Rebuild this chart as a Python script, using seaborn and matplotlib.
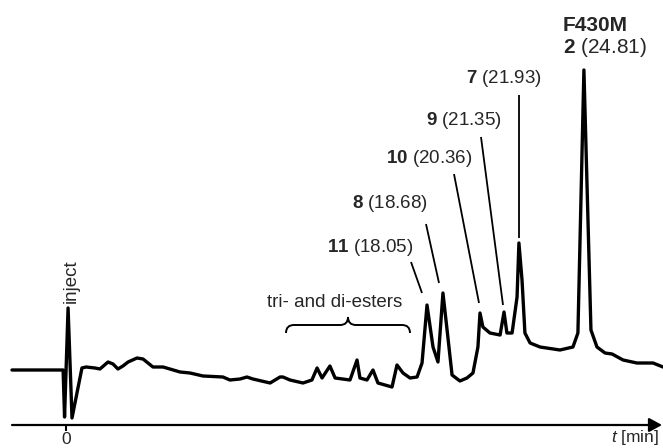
import matplotlib
matplotlib.use("Agg")
import matplotlib.pyplot as plt
from matplotlib.path import Path
from matplotlib.patches import PathPatch
import seaborn as sns
import pandas as pd

# ---- data (time in min, detector signal in a.u.) ----
time_min = [-2.61, -0.14, -0.07, 0.10, 0.29, 0.77, 0.97, 1.40, 1.64, 2.03, 2.27,
            2.51, 2.75, 3.00, 3.43, 3.72, 4.20, 4.69, 5.51, 5.99, 6.62, 7.58,
            7.92, 8.41, 8.74, 9.03, 9.86, 10.34, 10.48, 10.82, 11.45, 11.88,
            12.13, 12.37, 12.75, 13.00, 13.72, 14.06, 14.20, 14.54, 14.83,
            15.07, 15.75, 15.99, 16.28, 16.62, 16.96, 17.20, 17.44, 17.73,
            17.97, 18.21, 18.41, 18.65, 19.03, 19.37, 19.66, 19.90, 20.00,
            20.14, 20.48, 20.97, 21.16, 21.30, 21.55, 21.79, 21.88, 22.03,
            22.17, 22.42, 22.90, 23.86, 24.49, 24.73, 25.02, 25.36, 25.65,
            26.04, 26.38, 26.91, 27.58, 28.36, 28.84]
signal = [55, 55, 8, 117, 7, 57, 58, 57, 56, 63, 61,
          56, 59, 63, 67, 66, 58, 58, 53, 52, 49, 48,
          45, 46, 48, 46, 42, 48, 48, 45, 42, 45,
          57, 47, 59, 47, 45, 65, 47, 45, 55,
          42, 38, 60, 52, 47, 48, 62, 120, 78,
          63, 132, 95, 50, 44, 47, 52, 78, 112,
          98, 92, 90, 113, 92, 92, 128, 182, 145,
          92, 82, 78, 75, 78, 92, 355, 95, 78,
          72, 71, 65, 62, 62, 58]

peak_ids = ["11", "8", "10", "9", "7"]
peak_rt = ["18.05", "18.68", "20.36", "21.35", "21.93"]
main_id = "2"
main_rt = "24.81"
main_name = "F430M"
group_label = "tri- and di-esters"
inject_label = "inject"
x_ticks = [0]
x_tick_labels = ["0"]
x_label_unit = "[min]"

df = pd.DataFrame({"t": time_min, "s": signal})

# ---- style ----
sns.set_style("white")
plt.rcParams["font.family"] = ["Liberation Sans", "DejaVu Sans"]
plt.rcParams["mathtext.fontset"] = "custom"
plt.rcParams["mathtext.rm"] = "Liberation Sans"
plt.rcParams["mathtext.it"] = "Liberation Sans:italic"
plt.rcParams["mathtext.bf"] = "Liberation Sans:bold"

W, H = 663, 448
fig = plt.figure(figsize=(W / 100, H / 100), dpi=100)
ax = fig.add_axes([0, 23 / H, 1, 425 / H])

SCALE = 20.7  # px per minute
X0 = 66       # px of t = 0
Y0 = 425      # px of axis line


def P(x, y):
    """pixel position -> data coordinates (for annotations only)"""
    return ((x - X0) / SCALE, Y0 - y)


sns.lineplot(data=df, x="t", y="s", sort=False, color="black", lw=2.4,
             ax=ax, estimator=None, solid_joinstyle="round",
             solid_capstyle="round")

ax.set_xlim(P(0, 0)[0], P(W, 0)[0])
ax.set_ylim(0, Y0)
for sp in ax.spines.values():
    sp.set_visible(False)
ax.set_yticks([])
ax.set_xticks(x_ticks)
ax.set_xticklabels(x_tick_labels)
ax.tick_params(axis="x", bottom=True, length=4, width=1.5, pad=1,
               labelsize=12.5, color="black", direction="out")
ax.set_xlabel("")
ax.set_ylabel("")

# time axis with arrow
ax.annotate("", xy=P(W - 1, Y0), xytext=P(12, Y0),
            arrowprops=dict(arrowstyle="-|>,head_length=0.55,head_width=0.3",
                            lw=1.6, color="black", shrinkA=0, shrinkB=0,
                            mutation_scale=14),
            annotation_clip=False)
fig.text(659 / W, 1 - 437 / H, "$t$ " + x_label_unit, ha="right", va="center",
         fontsize=12.5)

FS = 13.5
# peak labels (right edge px, centre y px) and leader lines
label_pos = [(413, 247), (428, 203), (472, 158), (502, 120), (542, 78)]
leaders = [((411, 262), (422, 293)), ((426, 224), (439, 283)),
           ((454, 174), (479, 303)), ((481, 137), (503, 305)),
           ((519, 95), (519, 238))]
for pid, rt, (lx, ly), (a, b) in zip(peak_ids, peak_rt, label_pos, leaders):
    ax.text(*P(lx, ly), r"$\mathbf{" + pid + "}$ (" + rt + ")", ha="right",
            va="center", fontsize=FS)
    (xa, ya), (xb, yb) = P(*a), P(*b)
    ax.plot([xa, xb], [ya, yb], color="black", lw=1.3, solid_capstyle="butt")

ax.text(*P(563, 25), main_name, ha="left", va="center", fontsize=15,
        fontweight="bold")
ax.text(*P(563, 47), r"$\mathbf{" + main_id + "}$ (" + main_rt + ")",
        ha="left", va="center", fontsize=15)

ax.text(*P(335, 302), group_label, ha="center", va="center", fontsize=FS)

# curly brace
bx = [(286, 333), (286, 325), (294, 325), (340, 325), (348, 325), (348, 317),
      (348, 325), (356, 325), (402, 325), (410, 325), (410, 333)]
codes = [Path.MOVETO, Path.CURVE3, Path.CURVE3, Path.LINETO, Path.CURVE3,
         Path.CURVE3, Path.CURVE3, Path.CURVE3, Path.LINETO, Path.CURVE3,
         Path.CURVE3]
ax.add_patch(PathPatch(Path([P(*p) for p in bx], codes), fill=False,
                       lw=1.4, color="black"))

ax.text(*P(71, 281), inject_label, rotation=90, ha="center", va="center",
        fontsize=FS)

fig.savefig("out.png", dpi=100)
